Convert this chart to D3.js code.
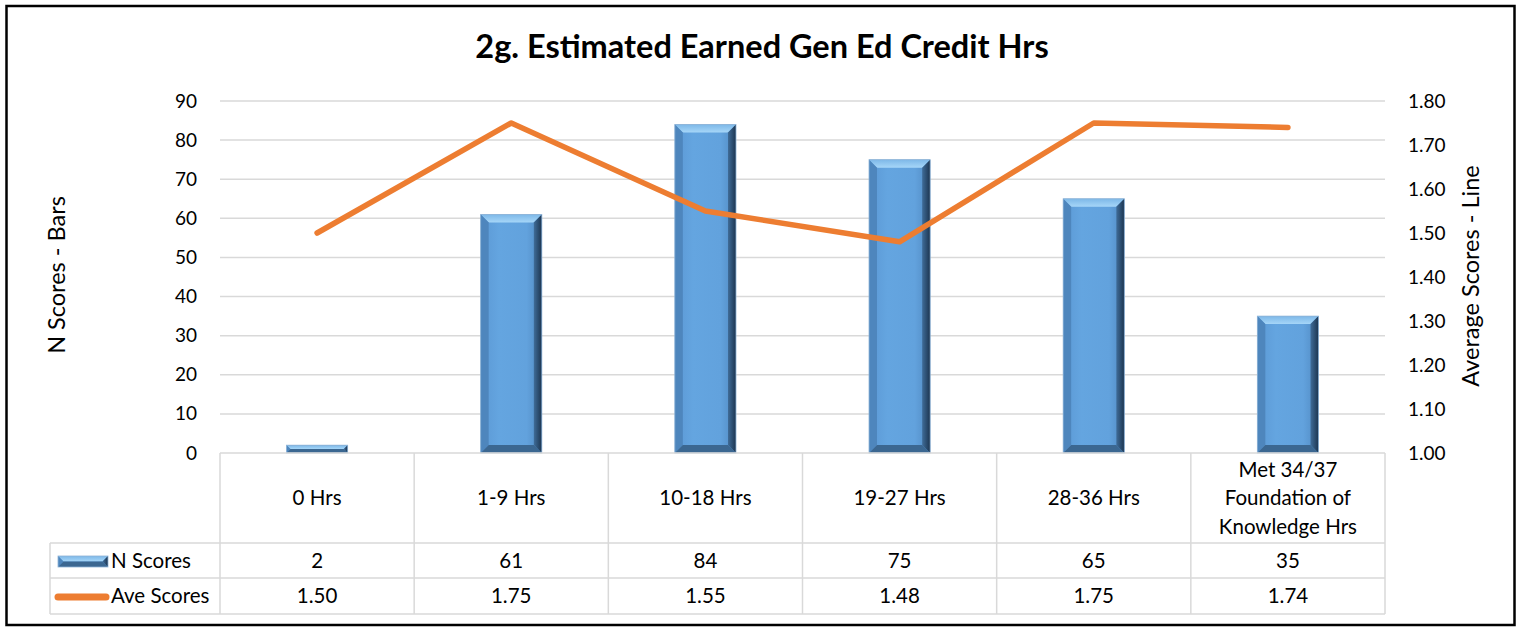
<!DOCTYPE html>
<html>
<head>
<meta charset="utf-8">
<script src="https://cdn.jsdelivr.net/npm/d3@7/dist/d3.min.js"></script>
<style>
  body { margin: 0; background: #fff; }
  svg text { font-family: Lato, "Open Sans", sans-serif; fill: #000; }
</style>
</head>
<body>
<div id="chart"></div>
<script>
// data
var categories = ["0 Hrs", "1-9 Hrs", "10-18 Hrs", "19-27 Hrs", "28-36 Hrs", "Met 34/37 Foundation of Knowledge Hrs"];
var catLines = [["0 Hrs"], ["1-9 Hrs"], ["10-18 Hrs"], ["19-27 Hrs"], ["28-36 Hrs"], ["Met 34/37", "Foundation of", "Knowledge Hrs"]];
var nScores = [2, 61, 84, 75, 65, 35];
var aveScores = [1.50, 1.75, 1.55, 1.48, 1.75, 1.74];
var leftTicks = [0, 10, 20, 30, 40, 50, 60, 70, 80, 90];
var rightTicks = [1.0, 1.1, 1.2, 1.3, 1.4, 1.5, 1.6, 1.7, 1.8];

var width = 1520, height = 628;
var plot = { left: 220, right: 1385, top: 101, bottom: 453 };
var rows = { head: 543, n: 578, ave: 614 }, legendLeft = 50;

var svg = d3.select("#chart").append("svg")
    .attr("width", width)
    .attr("height", height);

var defs = svg.append("defs");
var g1 = defs.append("linearGradient").attr("id", "barFace").attr("x1", 0).attr("x2", 1).attr("y1", 0).attr("y2", 0);
g1.append("stop").attr("offset", "0%").attr("stop-color", "#5b98d4");
g1.append("stop").attr("offset", "30%").attr("stop-color", "#64a5e0");
g1.append("stop").attr("offset", "75%").attr("stop-color", "#62a2dd");
g1.append("stop").attr("offset", "100%").attr("stop-color", "#4f88c0");
var g2 = defs.append("linearGradient").attr("id", "barRight").attr("x1", 0).attr("x2", 1).attr("y1", 0).attr("y2", 0);
g2.append("stop").attr("offset", "0%").attr("stop-color", "#3f6c98");
g2.append("stop").attr("offset", "100%").attr("stop-color", "#1c3550");
var g3 = defs.append("linearGradient").attr("id", "barTop").attr("x1", 0).attr("x2", 0).attr("y1", 0).attr("y2", 1);
g3.append("stop").attr("offset", "0%").attr("stop-color", "#7db8e8");
g3.append("stop").attr("offset", "100%").attr("stop-color", "#a6d6f8");

// scales
var x = d3.scaleBand().domain(categories).range([plot.left, plot.right]).padding(0);
var yL = d3.scaleLinear().domain([0, 90]).range([plot.bottom, plot.top]);
var yR = d3.scaleLinear().domain([1.0, 1.8]).range([plot.bottom, plot.top]);
var barW = x.bandwidth() * 0.315;

// title
svg.append("text")
    .attr("x", 762).attr("y", 58)
    .attr("text-anchor", "middle")
    .style("font-size", "32.5px").style("font-weight", "bold")
    .text("2g. Estimated Earned Gen Ed Credit Hrs");

// gridlines
svg.append("g").selectAll("line")
    .data(leftTicks.slice(1))
    .enter().append("line")
    .attr("x1", plot.left).attr("x2", plot.right)
    .attr("y1", function(d) { return yL(d); }).attr("y2", function(d) { return yL(d); })
    .attr("stroke", "#d9d9d9").attr("stroke-width", 1.5);

// left axis
var axL = svg.append("g")
    .attr("transform", "translate(" + plot.left + ",0)")
    .call(d3.axisLeft(yL).tickValues(leftTicks).tickSize(0).tickPadding(23));
axL.select(".domain").remove();
axL.selectAll("text").style("font-size", "19px").style("font-family", "Lato, sans-serif");

// right axis
var axR = svg.append("g")
    .attr("transform", "translate(" + plot.right + ",0)")
    .call(d3.axisRight(yR).tickValues(rightTicks).tickSize(0).tickPadding(23).tickFormat(d3.format(".2f")));
axR.select(".domain").remove();
axR.selectAll("text").style("font-size", "19px").style("font-family", "Lato, sans-serif");

// axis titles
svg.append("text")
    .attr("transform", "translate(65,275) rotate(-90)")
    .attr("text-anchor", "middle")
    .style("font-size", "23.5px")
    .text("N Scores - Bars");
svg.append("text")
    .attr("transform", "translate(1479,276) rotate(-90)")
    .attr("text-anchor", "middle")
    .style("font-size", "23.5px")
    .text("Average Scores - Line");

// bars with bevel
function bevelBar(sel, bx, by, w, h) {
    var b = Math.min(8, h / 2);
    sel.append("rect").attr("x", bx).attr("y", by).attr("width", w).attr("height", h).attr("fill", "url(#barFace)");
    var pts = function(a) { return a.map(function(p) { return p.join(","); }).join(" "); };
    sel.append("polygon").attr("points", pts([[bx, by], [bx + w, by], [bx + w - b, by + b], [bx + b, by + b]])).attr("fill", "url(#barTop)");
    sel.append("polygon").attr("points", pts([[bx, by], [bx + b, by + b], [bx + b, by + h - b], [bx, by + h]])).attr("fill", "#4e86bd");
    sel.append("polygon").attr("points", pts([[bx + w, by], [bx + w, by + h], [bx + w - b, by + h - b], [bx + w - b, by + b]])).attr("fill", "url(#barRight)");
    sel.append("polygon").attr("points", pts([[bx, by + h], [bx + b, by + h - b], [bx + w - b, by + h - b], [bx + w, by + h]])).attr("fill", "#3b6791");
    sel.append("rect").attr("x", bx).attr("y", by).attr("width", w).attr("height", h)
        .attr("fill", "none").attr("stroke", "#8fb3d6").attr("stroke-width", 0.8);
}

var bars = svg.append("g");
nScores.forEach(function(v, i) {
    var c = categories[i];
    var bx = x(c) + (x.bandwidth() - barW) / 2;
    bevelBar(bars.append("g"), bx, yL(v), barW, yL(0) - yL(v));
});

// line
var line = d3.line()
    .x(function(d, i) { return x(categories[i]) + x.bandwidth() / 2; })
    .y(function(d) { return yR(d); });
svg.append("path")
    .datum(aveScores)
    .attr("d", line)
    .attr("fill", "none")
    .attr("stroke", "#ed7d31")
    .attr("stroke-width", 5.5)
    .attr("stroke-linejoin", "round")
    .attr("stroke-linecap", "round");

// data table
var grid = svg.append("g").attr("stroke", "#d9d9d9").attr("stroke-width", 1.5);
grid.append("line").attr("x1", plot.left).attr("x2", plot.right).attr("y1", plot.bottom).attr("y2", plot.bottom);
[rows.head, rows.n, rows.ave].forEach(function(yy) {
    grid.append("line").attr("x1", legendLeft).attr("x2", plot.right).attr("y1", yy).attr("y2", yy);
});
grid.append("line").attr("x1", legendLeft).attr("x2", legendLeft).attr("y1", rows.head).attr("y2", rows.ave);
categories.forEach(function(c) {
    grid.append("line").attr("x1", x(c)).attr("x2", x(c)).attr("y1", plot.bottom).attr("y2", rows.ave);
});
grid.append("line").attr("x1", plot.right).attr("x2", plot.right).attr("y1", plot.bottom).attr("y2", rows.ave);

var tbl = svg.append("g").style("font-size", "20.5px").attr("text-anchor", "middle");
catLines.forEach(function(lines, i) {
    var cx = x(categories[i]) + x.bandwidth() / 2;
    var mid = (plot.bottom + rows.head) / 2;
    lines.forEach(function(t, j) {
        tbl.append("text")
            .attr("x", cx)
            .attr("y", mid + (j - (lines.length - 1) / 2) * 28.5)
            .attr("dy", "0.35em")
            .text(t);
    });
    tbl.append("text").attr("x", cx).attr("y", (rows.head + rows.n) / 2).attr("dy", "0.35em").text(nScores[i]);
    tbl.append("text").attr("x", cx).attr("y", (rows.n + rows.ave) / 2).attr("dy", "0.35em").text(d3.format(".2f")(aveScores[i]));
});

// legend keys
var lg = svg.append("g");
bevelBar(lg.append("g"), 58, 556, 50, 11);
lg.append("line").attr("x1", 58).attr("x2", 106).attr("y1", 597).attr("y2", 597)
    .attr("stroke", "#ed7d31").attr("stroke-width", 7).attr("stroke-linecap", "round");
lg.append("text").attr("x", 111).attr("y", (rows.head + rows.n) / 2).attr("dy", "0.35em").style("font-size", "20.5px").text("N Scores");
lg.append("text").attr("x", 111).attr("y", (rows.n + rows.ave) / 2).attr("dy", "0.35em").style("font-size", "20.5px").text("Ave Scores");

// outer border
svg.append("rect")
    .attr("x", 6.5).attr("y", 6).attr("width", 1508).attr("height", 619)
    .attr("fill", "none").attr("stroke", "#000").attr("stroke-width", 2.5);
</script>
</body>
</html>
